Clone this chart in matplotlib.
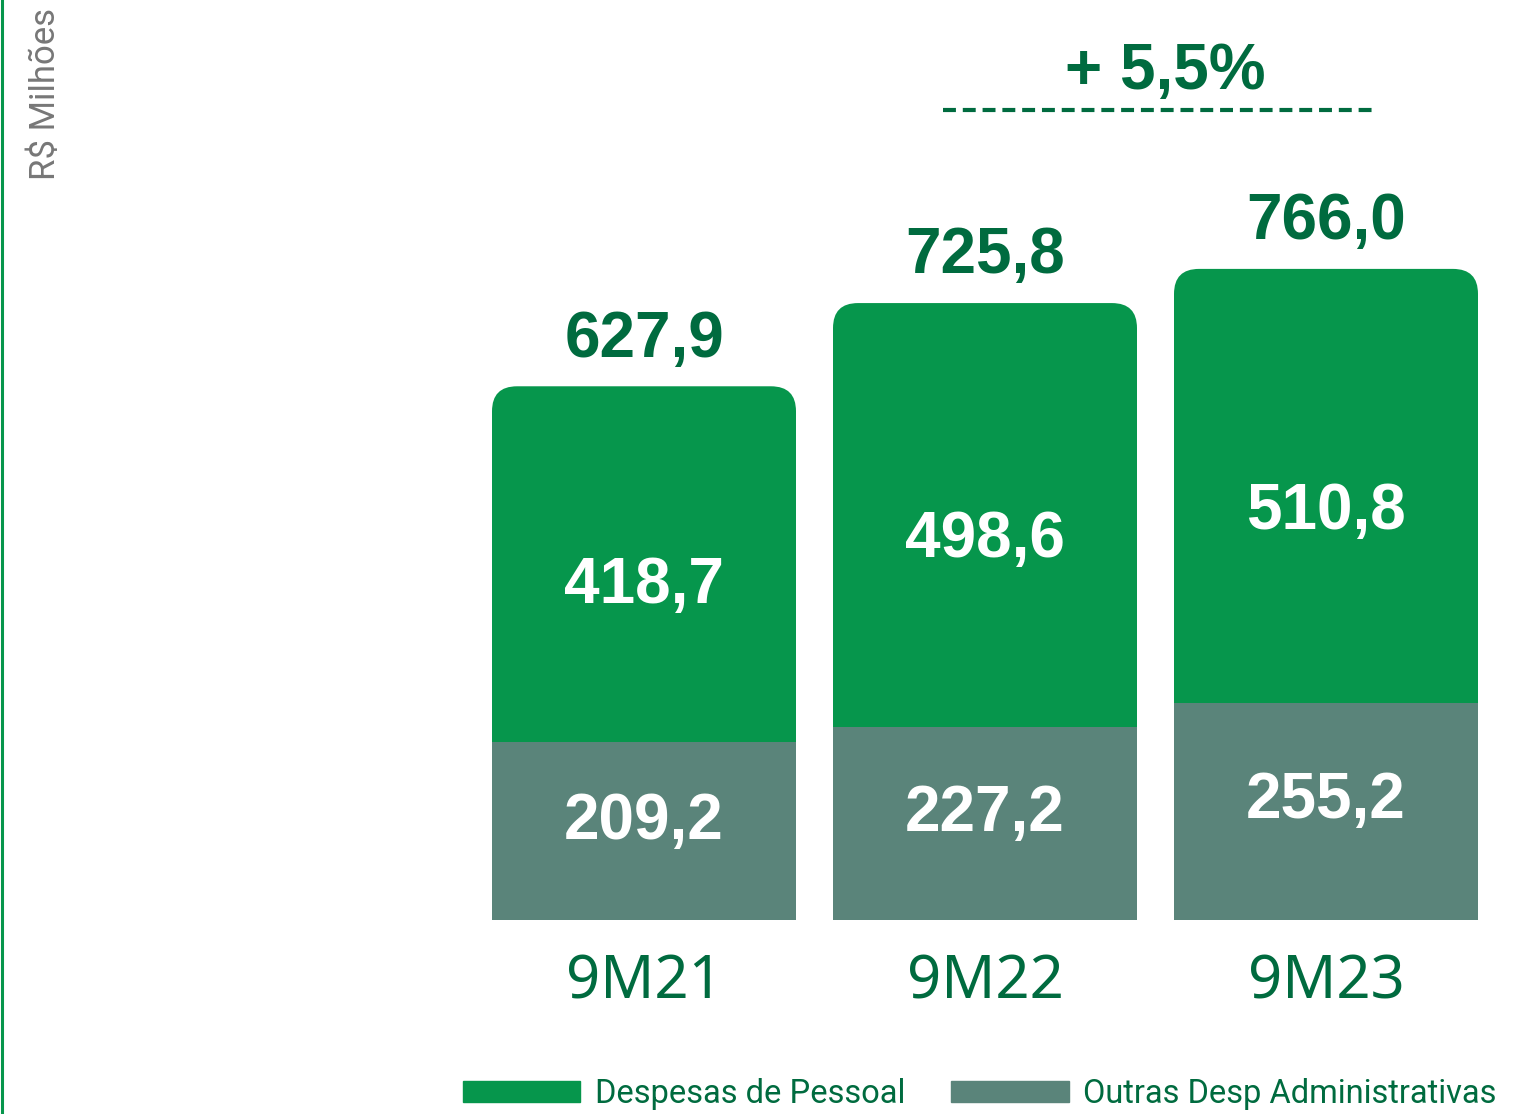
import matplotlib.pyplot as plt
from matplotlib.patches import FancyBboxPatch, Patch
from matplotlib.lines import Line2D

periodos = ["9M21", "9M22", "9M23"]
pessoal = [418.7, 498.6, 510.8]
outras = [209.2, 227.2, 255.2]
totais = [627.9, 725.8, 766.0]
rot_pessoal = ["418,7", "498,6", "510,8"]
rot_outras = ["209,2", "227,2", "255,2"]
rot_totais = ["627,9", "725,8", "766,0"]
crescimento = "+ 5,5%"

VERDE = "#06964C"
CINZA = "#5A847A"
ESCURO = "#006B3F"

fig = plt.figure(figsize=(15.24, 11.14), dpi=100)
ax = fig.add_axes([0, 194 / 1114, 1, 920 / 1114])
ax.set_xlim(-644 / 341, (1524 - 644) / 341)
ax.set_ylim(0, 920 / 0.85)
ax.axis("off")

x = list(range(len(periodos)))
w = 304 / 341

# barra verde com cantos arredondados por baixo, cinza por cima
barras = ax.bar(x, totais, width=w, color=VERDE)
rx = 25 / 341
ry = 25 / 0.85
for b in barras:
    b.set_visible(False)
    ax.add_patch(FancyBboxPatch((b.get_x(), 0), b.get_width(), b.get_height(),
                                boxstyle=f"round,pad=0,rounding_size={rx}",
                                mutation_aspect=ry / rx, fc=VERDE, ec="none"))
ax.bar(x, outras, width=w, color=CINZA)

fnum = dict(family="Liberation Sans", weight="bold", fontsize=46)
for i in x:
    ax.annotate(rot_totais[i], (i, totais[i]), xytext=(0, 12), textcoords="offset points",
                ha="center", va="bottom", color=ESCURO, **fnum)
    ax.text(i, outras[i] + pessoal[i] * 0.44, rot_pessoal[i], ha="center", va="center",
            color="white", **fnum)
    ax.text(i, outras[i] * 0.55, rot_outras[i], ha="center", va="center",
            color="white", **fnum)
    ax.text(i, -38, periodos[i], ha="center", va="top", color=ESCURO,
            family="Noto Sans", fontsize=43)

# variação
ax.plot([(943 - 644) / 341, (1378 - 644) / 341], [953, 953], color=ESCURO, lw=3,
        dashes=(3.1, 1.65), solid_capstyle="butt", clip_on=False)
ax.text(1.53, 962, crescimento, ha="center", va="bottom", color=ESCURO, **fnum)

fig.text(0.030, 0.993, "R$ Milhões", rotation=90, ha="center", va="top",
         color="#777777", family="Roboto", fontsize=25)

fig.add_artist(Line2D([0.001, 0.001], [0, 1], color=VERDE, lw=2.2))

handles = [Patch(color=VERDE, label="Despesas de Pessoal"),
           Patch(color=CINZA, label="Outras Desp Administrativas")]
leg = fig.legend(handles=handles, ncol=2, loc="lower right", bbox_to_anchor=(0.995, -0.014),
                 frameon=False, prop=dict(family="Roboto", size=23.5),
                 handlelength=3.6, handleheight=0.61, handletextpad=0.45, columnspacing=1.4,
                 borderaxespad=0.2)
for t in leg.get_texts():
    t.set_color(ESCURO)

fig.savefig("out.png", dpi=100)
